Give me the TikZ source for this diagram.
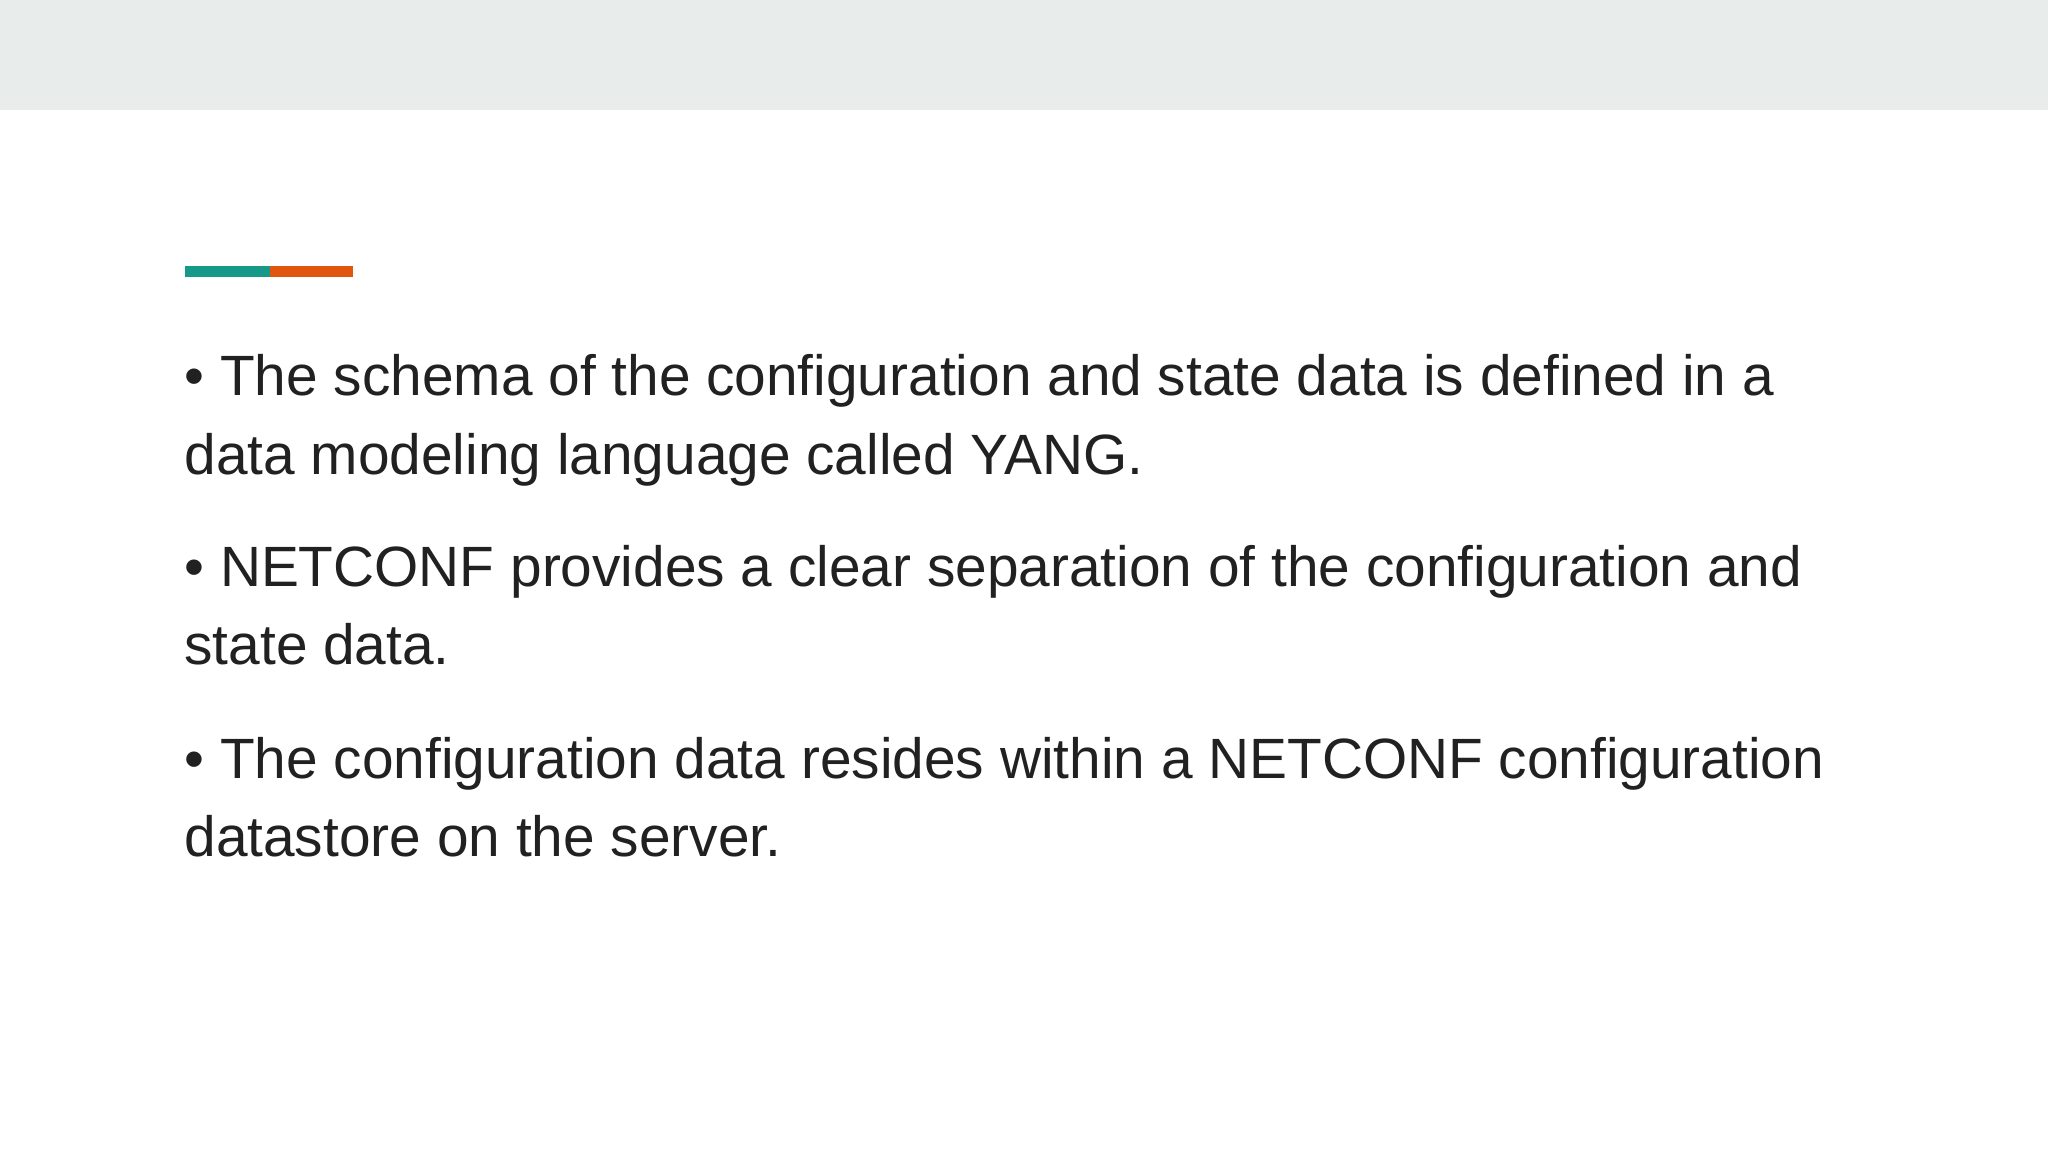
\documentclass[tikz,border=0pt]{standalone}
\usepackage{fontspec}
\setmainfont{Liberation Sans}
\definecolor{band}{HTML}{E8EDEB}
\definecolor{teal}{HTML}{17998A}
\definecolor{orng}{HTML}{E0560F}
\definecolor{txt}{HTML}{212121}
\begin{document}
\begin{tikzpicture}[x=1pt,y=-1pt,
  line/.style={anchor=base west,inner sep=0pt,text=txt,font=\fontsize{43.5}{52}\selectfont}]
\useasboundingbox (0,0) rectangle (1568,882);
\fill[white] (0,0) rectangle (1568,882);
\fill[band] (0,0) rectangle (1568,84);
\fill[teal] (142,204) rectangle (207,212);
\fill[orng] (207,204) rectangle (270,212);
\node[line] (l1) at (141,303) {• The schema of the configuration and state data is defined in a};
\node[line] (l2) at (141,363) {data modeling language called YANG.};
\node[line] (l3) at (141,449) {• NETCONF provides a clear separation of the configuration and};
\node[line] (l4) at (141,509) {state data.};
\node[line] (l5) at (141,596) {• The configuration data resides within a NETCONF configuration};
\node[line] (l6) at (141,656) {datastore on the server.};
\end{tikzpicture}
\end{document}
